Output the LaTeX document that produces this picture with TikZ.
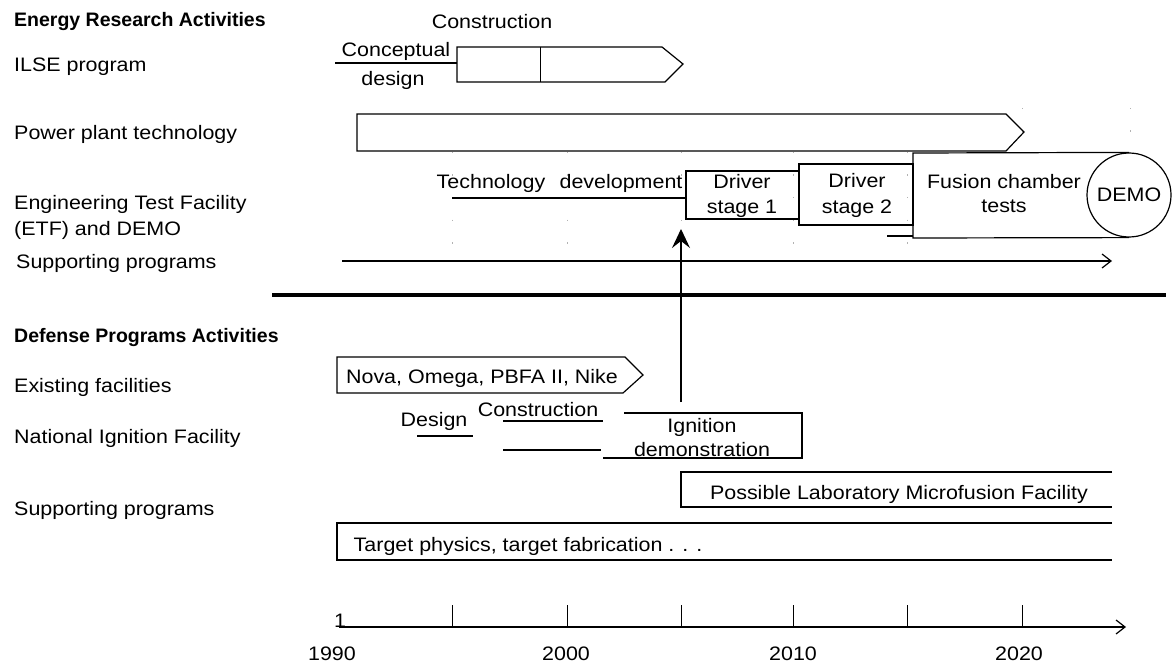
\documentclass[tikz,border=0pt]{standalone}
\usepackage{fontspec}
\setmainfont{Liberation Sans}[FakeStretch=1.1]
\newfontfamily\hdfont{Liberation Sans}
\usetikzlibrary{arrows.meta}
\begin{document}
\begin{tikzpicture}[x=1pt,y=-1pt,
  lbl/.style={font=\fontsize{19.5}{23}\selectfont, inner sep=0pt, anchor=base},
  side/.style={lbl, anchor=base west},
  head/.style={font=\hdfont\bfseries\fontsize{19.5}{23}\selectfont, inner sep=0pt, anchor=base west},
  bar/.style={line width=1.2pt},
  gridline/.style={gray!60, line width=0.8pt, dash pattern=on 1.5pt off 21pt},
  barb/.style={-{Straight Barb[length=9pt,width=14pt,line width=1.2pt]}}
]
\useasboundingbox (0,0) rectangle (1172,663);

% faint grid marks
\foreach \gx in {452,567,681,793,907}
  \draw[gridline] (\gx,152) -- (\gx,252);
\foreach \gx in {1022,1130}
  \draw[gridline] (\gx,108) -- (\gx,140);

% left labels
\node[head] (erh) at (14,27) {Energy Research Activities};
\node[side] (ilse) at (14,72) {ILSE program};
\node[side] (ppt) at (14,140) {Power plant technology};
\node[side] (etfa) at (14,209) {Engineering Test Facility};
\node[side] (etfb) at (14,236) {(ETF) and DEMO};
\node[side] (supa) at (16,268) {Supporting programs};
\node[head] (dph) at (14,342) {Defense Programs Activities};
\node[side] (exf) at (14,392) {Existing facilities};
\node[side] (nif) at (14,443) {National Ignition Facility};
\node[side] (supb) at (14,515) {Supporting programs};

% ILSE program
\draw[bar] (335,63) -- (457,63);
\draw[bar] (457,47) -- (662,47) -- (683,64) -- (665,82) -- (457,82) -- cycle;
\draw[line width=0.8pt] (540,47) -- (540,82);
\node[lbl] (constr) at (492,29) {Construction};
\node[lbl] (concept) at (396,57) {Conceptual};
\node[lbl] (design) at (393,86) {design};

% Power plant technology
\draw[bar] (357,114) -- (1006,114) -- (1024,132) -- (1006,151) -- (357,151) -- cycle;

% ETF and DEMO
\draw[bar] (452,198) -- (686,198);
\node[lbl] (tech) at (491,189) {Technology};
\node[lbl] (devel) at (621,189) {development};
\draw[bar] (686,171) rectangle (799,219);
\node[lbl] (dsa) at (742,189) {Driver};
\node[lbl] (dsb) at (742,213) {stage 1};
\draw[bar] (799,164) rectangle (913,225);
\node[lbl] (dta) at (857,188) {Driver};
\node[lbl] (dtb) at (857,213) {stage 2};
\node[circle, draw, line width=1.2pt, minimum size=84pt, inner sep=0pt,
      font=\fontsize{19.5}{23}\selectfont] (demo) at (1129,195) {DEMO};
\draw[bar] (demo.north) -- (913,153) -- (913,238) -- (demo.south);
\draw[bar] (887,236) -- (913,236);
\node[lbl] (fca) at (1004,189) {Fusion chamber};
\node[lbl] (fcb) at (1004,212) {tests};

% supporting programs (energy)
\coordinate (spa) at (342,261);
\coordinate (spb) at (1112,261);
\draw[bar, barb] (spa) -- (spb);

% separator
\draw[line width=4.5pt] (272,295) -- (1166,295);

% ignition arrow
\coordinate (nbase) at (681,402);
\coordinate (ntip) at (681,229);
\draw[line width=1.2pt, -{Stealth[length=19pt,width=18pt,inset=7pt]}] (nbase) -- (ntip);

% existing facilities
\draw[bar] (337,357) -- (625,357) -- (643,375) -- (623,393) -- (337,393) -- cycle;
\node[lbl] (nova) at (482,383) {Nova, Omega, PBFA II, Nike};

% National Ignition Facility
\draw[bar] (417,436) -- (473,436);
\draw[bar] (503,421) -- (603,421);
\draw[bar] (503,450) -- (601,450);
\draw[bar] (624,413) -- (802,413) -- (802,458) -- (603,458);
\node[lbl] (nifd) at (434,426) {Design};
\node[lbl] (nifc) at (538,416) {Construction};
\node[lbl] (nifi) at (702,432) {Ignition};
\node[lbl] (nifdem) at (702,456) {demonstration};

% LMF
\draw[bar] (1112,472) -- (681,472) -- (681,507) -- (1112,507);
\node[lbl] (lmf) at (899,499) {Possible Laboratory Microfusion Facility};

% target physics
\draw[bar] (1112,523) -- (337,523) -- (337,560) -- (1112,560);
\node[lbl] (tp) at (528,551) {Target physics, target fabrication . . .};

% time axis
\coordinate (axa) at (339,627);
\coordinate (axb) at (1126,627);
\draw[bar, barb] (axa) -- (axb);
\foreach \tx in {452,567,681,793,907,1022}
  \draw[line width=1pt] (\tx,605) -- (\tx,627);
\node[lbl] (one) at (340,627) {1};
\node[lbl] (ya) at (332,660) {1990};
\node[lbl] (yb) at (566,660) {2000};
\node[lbl] (yc) at (793,660) {2010};
\node[lbl] (yd) at (1019,660) {2020};
\end{tikzpicture}
\end{document}
